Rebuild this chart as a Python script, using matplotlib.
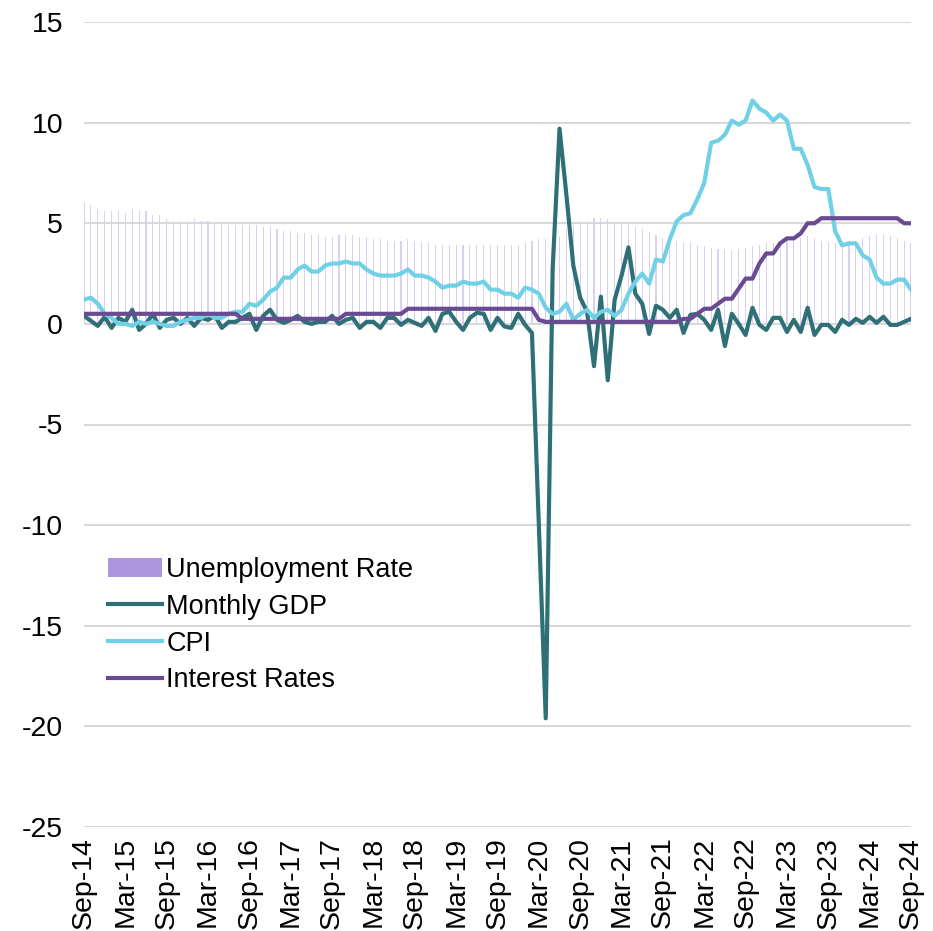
import numpy as np
import pandas as pd
import matplotlib
matplotlib.use("Agg")
import matplotlib.pyplot as plt
from matplotlib.patches import Patch
from matplotlib.lines import Line2D

plt.rcParams['font.family'] = ['Liberation Sans', 'DejaVu Sans']
plt.rcParams['axes.unicode_minus'] = False

# monthly, Sep 2014 .. Sep 2024
months = pd.date_range('2014-09-01', '2024-09-01', freq='MS')
tick_labels = [d.strftime('%b-%y') for d in months[::6]]

unemployment = [
    6.0, 5.9, 5.7, 5.6, 5.6, 5.6, 5.5, 5.7, 5.6, 5.6, 5.4, 5.4, 5.2, 5.1, 5.1,
    5.1, 5.2, 5.1, 5.1, 5.0, 5.0, 4.9, 4.9, 4.9, 4.9, 4.9, 4.8, 4.8, 4.7,
    4.6, 4.6, 4.5, 4.5, 4.4, 4.4, 4.3, 4.3, 4.4, 4.4, 4.4, 4.3, 4.3, 4.2, 4.2,
    4.1, 4.1, 4.1, 4.2, 4.1, 4.0, 4.0, 3.9, 3.9, 3.9, 3.9, 3.9, 3.9, 3.9, 3.9,
    3.9, 3.9, 3.9, 3.9, 3.9, 4.0, 4.1, 4.2, 4.2, 4.3, 4.35, 4.7, 4.9, 5.1, 5.1,
    5.25, 5.25, 5.2, 5.0, 5.0, 5.0, 4.8, 4.7, 4.55, 4.4,
    4.25, 4.1, 4.1, 4.0, 4.0, 3.9, 3.85, 3.75, 3.7, 3.7, 3.6, 3.7, 3.75, 3.85,
    3.9, 4.0, 4.0, 4.1, 4.2, 4.25, 4.25, 4.35, 4.25, 4.1, 4.05, 4.0, 4.0, 4.0,
    4.1, 4.25, 4.35, 4.4, 4.4, 4.35, 4.25, 4.1, 4.0,
]

monthly_gdp = [
    0.4, 0.15, -0.1, 0.35, -0.2, 0.3, 0.1, 0.7, -0.3, 0.0, 0.5, -0.2, 0.2, 0.3,
    0.0, 0.3, -0.1, 0.3, 0.2, 0.4, -0.2, 0.1, 0.1, 0.3, 0.5, -0.3, 0.4, 0.7, 0.2,
    0.05, 0.2, 0.4, 0.1, 0.0, 0.1, 0.1, 0.4, 0.0, 0.2, 0.3, -0.2, 0.1, 0.1, -0.2,
    0.3, 0.3, -0.05, 0.2, 0.05, -0.1, 0.3, -0.35, 0.5, 0.6, 0.1, -0.3, 0.3, 0.55,
    0.5, -0.3, 0.3, -0.13, -0.2, 0.5, -0.05, -0.45,
    -10.0, -19.6, 2.7, 9.7, 6.4, 2.9, 1.3, 0.6, -2.1, 1.35, -2.8, 1.2, 2.4, 3.8,
    1.5, 1.0, -0.5, 0.9,
    0.7, 0.3, 0.7, -0.45, 0.45, 0.5, 0.2, -0.3, 0.7, -1.1, 0.5, 0.0, -0.55, 0.8,
    -0.05, -0.3, 0.3, 0.3, -0.4, 0.2, -0.4, 0.8, -0.55, -0.05, -0.05, -0.4, 0.2,
    -0.05, 0.25, 0.05, 0.35, 0.05, 0.35, -0.05, -0.05, 0.1, 0.25,
]

cpi = [
    1.2, 1.3, 1.0, 0.5,
    0.3, 0.0, 0.0, -0.1, 0.1, 0.0, 0.1, 0.0, -0.1, -0.1, 0.1, 0.2,
    0.3, 0.3, 0.5, 0.3, 0.3, 0.5, 0.6, 0.6, 1.0, 0.9, 1.2, 1.6,
    1.8, 2.3, 2.3, 2.7, 2.9, 2.6, 2.6, 2.9, 3.0, 3.0, 3.1, 3.0,
    3.0, 2.7, 2.5, 2.4, 2.4, 2.4, 2.5, 2.7, 2.4, 2.4, 2.3, 2.1,
    1.8, 1.9, 1.9, 2.1, 2.0, 2.0, 2.1, 1.7, 1.7, 1.5, 1.5, 1.3,
    1.8, 1.7, 1.5, 0.8, 0.5, 0.6, 1.0, 0.2, 0.5, 0.7, 0.3, 0.6,
    0.7, 0.4, 0.7, 1.5, 2.1, 2.5, 2.0, 3.2, 3.1, 4.2, 5.1, 5.4,
    5.5, 6.2, 7.0, 9.0, 9.1, 9.4, 10.1, 9.9, 10.1, 11.1, 10.7, 10.5,
    10.1, 10.4, 10.1, 8.7, 8.7, 7.9, 6.8, 6.7, 6.7, 4.6, 3.9, 4.0,
    4.0, 3.4, 3.2, 2.3, 2.0, 2.0, 2.2, 2.2, 1.7,
]

interest_rates = (
    [0.5] * 23 + [0.25] * 15 + [0.5] * 9 + [0.75] * 19 + [0.2] + [0.1] * 20
    + [0.25, 0.25, 0.5, 0.75, 0.75, 1.0, 1.25, 1.25, 1.75, 2.25, 2.25, 3.0,
       3.5, 3.5, 4.0, 4.25, 4.25, 4.5, 5.0, 5.0, 5.25]
    + [5.25] * 11 + [5.0, 5.0]
)

x = np.arange(len(months))
LW = 3.0

fig = plt.figure(figsize=(9.33, 9.31), dpi=100)
ax = fig.add_axes([84 / 933, 1 - 827 / 931, (911 - 84) / 933, (827 - 22) / 931])

ax.bar(x, unemployment, width=0.16, color='#d9cff0', zorder=1)
ax.plot(x, monthly_gdp, color='#2f6f77', lw=LW, solid_joinstyle='round', zorder=3)
ax.plot(x, cpi, color='#6fd0e6', lw=LW, solid_joinstyle='round', zorder=3)
ax.plot(x, interest_rates, color='#6a4a93', lw=LW, solid_joinstyle='round', zorder=4)

ax.set_xlim(0, 120)
ax.set_ylim(-25, 15)
ax.set_yticks(np.arange(-25, 16, 5))
ax.set_xticks(x[::6])
ax.set_xticklabels(tick_labels, rotation=90)
ax.tick_params(axis='both', length=0, labelsize=20.5)
ax.tick_params(axis='y', pad=15)
ax.tick_params(axis='x', pad=7)
ax.grid(axis='y', color='#d9d9d9', lw=1.5, zorder=0)
ax.set_axisbelow(True)
for s in ax.spines.values():
    s.set_visible(False)

handles = [
    Patch(facecolor='#ab95dc', edgecolor='none'),
    Line2D([], [], color='#2f6f77', lw=LW),
    Line2D([], [], color='#6fd0e6', lw=LW),
    Line2D([], [], color='#6a4a93', lw=LW),
]
labels = ['Unemployment Rate', 'Monthly GDP', 'CPI', 'Interest Rates']
ax.legend(handles, labels, loc='upper left', bbox_to_anchor=(0.016, 0.349),
          frameon=False, fontsize=19.5, handlelength=2.0, handletextpad=0.15,
          labelspacing=0.40, borderaxespad=0)

fig.savefig('out.png', dpi=100)
